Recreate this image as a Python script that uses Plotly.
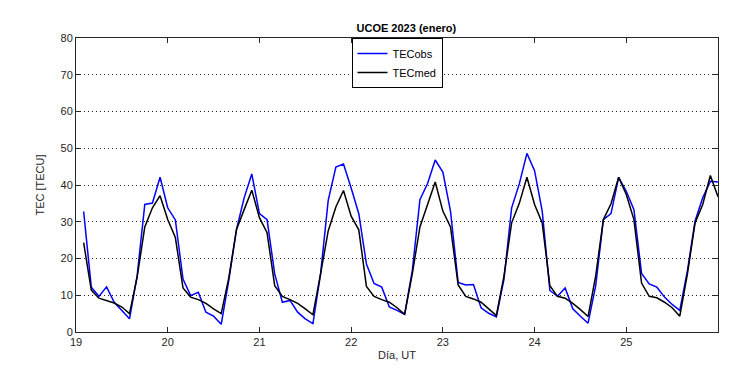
import plotly.graph_objects as go

# time in days (2-hour steps, 19.083 .. 26.0)
steps_per_day = 12
hours_index = list(range(1, 85))
day = [19 + k / steps_per_day for k in hours_index]

tec_obs = [
    32.8, 12.2, 9.7, 12.3, 8.1, 5.9, 3.6, 15.3, 34.7, 35.1, 42.1, 33.8,
    30.5, 14.4, 9.9, 10.8, 5.4, 4.3, 2.1, 14.2, 27.9, 36.5, 43.0, 32.2,
    30.6, 15.8, 8.1, 8.6, 5.4, 3.6, 2.3, 15.8, 35.8, 44.9, 45.7, 39.2,
    32.2, 18.5, 13.2, 12.2, 6.8, 5.9, 4.8, 16.7, 36.0, 40.4, 46.8, 43.5,
    32.9, 13.5, 12.8, 12.9, 6.6, 5.1, 4.1, 14.4, 33.8, 40.3, 48.6, 43.9,
    32.9, 11.3, 9.7, 12.0, 6.3, 4.3, 2.4, 12.6, 30.6, 32.2, 42.1, 38.3,
    33.3, 15.9, 13.1, 12.2, 9.5, 7.5, 5.9, 16.7, 30.2, 36.5, 41.0, 40.8,
]

tec_med = [
    24.3, 11.4, 9.2, 8.6, 7.9, 6.8, 5.0, 14.9, 28.6, 33.8, 37.1, 30.6,
    25.7, 12.0, 9.5, 8.8, 7.8, 6.3, 5.0, 14.8, 27.9, 33.3, 38.6, 31.1,
    27.0, 12.6, 9.7, 8.8, 7.8, 6.3, 4.7, 15.8, 27.5, 34.0, 38.5, 31.5,
    27.8, 12.4, 9.7, 8.8, 8.1, 6.6, 4.8, 15.8, 28.6, 34.7, 40.8, 32.9,
    28.6, 12.8, 9.7, 9.0, 8.1, 6.3, 4.5, 15.3, 29.7, 35.0, 42.1, 34.7,
    29.7, 12.6, 9.7, 9.2, 7.8, 6.1, 4.2, 15.3, 30.6, 34.9, 42.1, 37.4,
    30.6, 13.3, 9.7, 9.3, 8.1, 6.6, 4.3, 15.8, 29.7, 34.7, 42.6, 36.8,
]

x_ticks = [19, 20, 21, 22, 23, 24, 25]
y_ticks = [0, 10, 20, 30, 40, 50, 60, 70, 80]

font_family = "Liberation Sans, Arial, sans-serif"
axis_color = "#262626"

fig = go.Figure()
fig.add_trace(go.Scatter(x=day, y=tec_obs, mode="lines", name="TECobs",
                         line=dict(color="#0000ff", width=1.5)))
fig.add_trace(go.Scatter(x=day, y=tec_med, mode="lines", name="TECmed",
                         line=dict(color="#000000", width=1.5)))

fig.update_layout(
    width=756, height=378,
    margin=dict(l=68, r=46, t=30, b=54, autoexpand=False),
    paper_bgcolor="white", plot_bgcolor="white",
    font=dict(family=font_family, size=11, color=axis_color),
    title=dict(text="<b>UCOE 2023 (enero)</b>", x=0.5146, xanchor="center",
               xref="paper", y=0.947, yanchor="middle",
               font=dict(size=11, color="black")),
    showlegend=True,
    legend=dict(x=0.5, xanchor="center", y=1.0, yanchor="top",
                bordercolor="black", borderwidth=1, bgcolor="white",
                font=dict(size=11, color="black"),
                tracegroupgap=0, itemwidth=30),
)

fig.update_xaxes(
    range=[19, 26], tickvals=x_ticks, ticktext=[str(v) for v in x_ticks],
    ticks="inside", ticklen=5, tickcolor=axis_color,
    showline=True, linecolor=axis_color, linewidth=1, mirror="ticks",
    showgrid=False, zeroline=False, automargin=False,
    title=dict(text="Día, UT", standoff=4, font=dict(size=11)),
)
fig.update_yaxes(
    range=[0, 80], tickvals=y_ticks,
    ticks="inside", ticklen=5, tickcolor=axis_color,
    showline=True, linecolor=axis_color, linewidth=1, mirror="ticks",
    showgrid=True, gridcolor="#222222", griddash="1px,3px", gridwidth=1,
    zeroline=False, automargin=False,
    title=dict(text="TEC [TECU]", standoff=13, font=dict(size=11)),
)

fig.write_html("out.html")
